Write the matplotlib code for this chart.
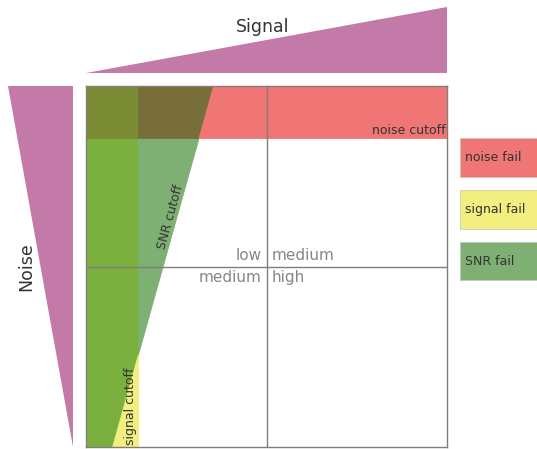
import numpy as np
import matplotlib
matplotlib.use("Agg")
import matplotlib.pyplot as plt

# ---- data ----
signal_cutoff = 0.144          # signal fails left of this
noise_cutoff = 0.856           # noise fails above this
snr_line_x = [0.072, 0.352]    # SNR cutoff x at noise = 0 and noise = 1
quadrant_labels = ["low", "medium", "medium", "high"]
legend_labels = ["noise fail", "signal fail", "SNR fail"]

c_red = "#f07676"
c_yellow = "#f2ee80"
c_green = "#7eb074"
c_yellow_green = "#7cb03e"
c_red_green = "#786e3a"
c_all = "#7a8c34"
c_tri = "#c47aa8"
c_grid = "#847c7c"
c_quad = "#8a8585"
c_text = "#333333"

fig = plt.figure(figsize=(5.37, 4.49), dpi=100)
W, H = 537, 449

def ax_px(x0, y0, x1, y1):
    return fig.add_axes([x0 / W, 1 - y1 / H, (x1 - x0) / W, (y1 - y0) / H])

ax = ax_px(86, 86, 447, 447)
ax.set_xlim(0, 1)
ax.set_ylim(0, 1)

lo, hi = snr_line_x
def line(y):
    return lo + (hi - lo) * np.asarray(y)

y_s = (signal_cutoff - lo) / (hi - lo)   # where SNR line meets signal cutoff

kw = dict(linewidth=0.6)
# below noise cutoff
yb = np.array([0, y_s, noise_cutoff])
ax.fill_betweenx(yb, 0, np.minimum(line(yb), signal_cutoff), color=c_yellow_green, **kw)
y1 = np.array([0, y_s])
ax.fill_betweenx(y1, np.minimum(line(y1), signal_cutoff), signal_cutoff, color=c_yellow, **kw)
y2 = np.array([y_s, noise_cutoff])
ax.fill_betweenx(y2, signal_cutoff, line(y2), color=c_green, **kw)
# noise band
yt = np.array([noise_cutoff, 1])
ax.fill_betweenx(yt, 0, signal_cutoff, color=c_all, **kw)
ax.fill_betweenx(yt, signal_cutoff, line(yt), color=c_red_green, **kw)
ax.fill_betweenx(yt, line(yt), 1, color=c_red, **kw)

ax.axvline(0.5, color=c_grid, lw=1.0)
ax.axhline(0.5, color=c_grid, lw=1.0)
for s in ax.spines.values():
    s.set_color(c_grid)
    s.set_linewidth(1.0)
ax.set_xticks([])
ax.set_yticks([])

# quadrant labels
ax.text(0.487, 0.51, quadrant_labels[0], ha="right", va="bottom", fontsize=11, color=c_quad)
ax.text(0.513, 0.51, quadrant_labels[1], ha="left", va="bottom", fontsize=11, color=c_quad)
ax.text(0.487, 0.49, quadrant_labels[2], ha="right", va="top", fontsize=11, color=c_quad)
ax.text(0.513, 0.49, quadrant_labels[3], ha="left", va="top", fontsize=11, color=c_quad)

# cutoff labels
ax.text(0.995, noise_cutoff + 0.002, "noise cutoff", ha="right", va="bottom", fontsize=9, color=c_text)
ax.text(signal_cutoff - 0.002, 0.005, "signal cutoff", ha="left", va="bottom", rotation=90,
        rotation_mode="anchor", fontsize=9, color=c_text)
ang = np.degrees(np.arctan2(1, hi - lo))
ys_t = 0.632
ax.text(line(ys_t) + 0.002, ys_t, "SNR cutoff", ha="center", va="bottom", rotation=ang,
        rotation_mode="anchor", fontsize=9, color=c_text)

# signal triangle
axs = ax_px(86, 7, 447, 73)
axs.fill([0, 1, 1], [0, 0, 1], color=c_tri, lw=0)
axs.set_xlim(0, 1); axs.set_ylim(0, 1); axs.axis("off")
axs.text(0.49, 0.69, "Signal", ha="center", va="center", fontsize=12.5, color=c_text)

# noise triangle
axn = ax_px(8, 86, 73, 447)
axn.fill([0, 1, 1], [1, 1, 0], color=c_tri, lw=0)
axn.set_xlim(0, 1); axn.set_ylim(0, 1); axn.axis("off")
axn.text(0.28, 0.50, "Noise", ha="center", va="center", rotation=90, fontsize=12.5, color=c_text)

# legend boxes
axl = ax_px(460, 131.6, 560, 286.9)
axl.barh(range(3), [1, 1, 1], height=0.745, color=[c_red, c_yellow, c_green],
         edgecolor="#c8c0c0", linewidth=0.5)
axl.set_xlim(0, 1); axl.set_ylim(2.5, -0.5); axl.axis("off")
for i, lab in enumerate(legend_labels):
    axl.text(0.05, i, lab, ha="left", va="center", fontsize=9, color=c_text)

fig.savefig("out.png", dpi=100)
